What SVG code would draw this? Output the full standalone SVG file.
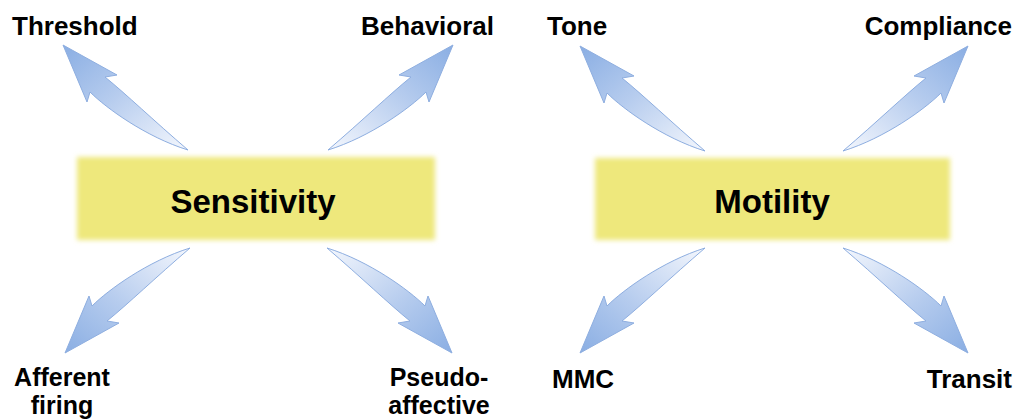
<svg xmlns="http://www.w3.org/2000/svg" xmlns:xlink="http://www.w3.org/1999/xlink" width="1016" height="419" viewBox="0 0 1016 419">
  <defs>
    <linearGradient id="arrowGrad" x1="0" y1="0" x2="1" y2="1">
      <stop offset="0" stop-color="#8aaee3"/>
      <stop offset="0.45" stop-color="#b6ccee"/>
      <stop offset="1" stop-color="#f4f7fd"/>
    </linearGradient>
    <filter id="soft" x="-10%" y="-20%" width="120%" height="140%">
      <feGaussianBlur stdDeviation="2.6"/>
    </filter>
    <path id="arrow" d="M0,0 C-35,-30 -62,-56 -83,-73 L-71,-75 L-125,-105 L-101,-48 L-98,-58 C-82,-42 -42,-13 0,0 Z"/>
  </defs>
  <style>
    .box { fill: #eee87c; filter: url(#soft); }
    .arr { fill: url(#arrowGrad); stroke: #8eaee0; stroke-width: 1; stroke-linejoin: round; }
    .lbl { font-family: "Liberation Sans", Arial, sans-serif; font-weight: bold; font-size: 26px; fill: #000; }
    .lbl2 { font-family: "Liberation Sans", Arial, sans-serif; font-weight: bold; font-size: 25px; fill: #000; text-anchor: middle; }
    .title { font-family: "Liberation Sans", Arial, sans-serif; font-weight: bold; font-size: 33px; fill: #000; text-anchor: middle; }
  </style>
  <rect width="1016" height="419" fill="#ffffff"/>

  <g id="connectors">
    <use xlink:href="#arrow" class="arr" transform="translate(188,150)"/>
    <use xlink:href="#arrow" class="arr" transform="translate(328,150) scale(-1,1)"/>
    <use xlink:href="#arrow" class="arr" transform="translate(190,248) scale(1,-1)"/>
    <use xlink:href="#arrow" class="arr" transform="translate(327,248) scale(-1,-1)"/>
    <use xlink:href="#arrow" class="arr" transform="translate(705,151)"/>
    <use xlink:href="#arrow" class="arr" transform="translate(843,151) scale(-1,1)"/>
    <use xlink:href="#arrow" class="arr" transform="translate(705,248) scale(1,-1)"/>
    <use xlink:href="#arrow" class="arr" transform="translate(843,248) scale(-1,-1)"/>
  </g>

  <g id="sensitivity">
    <rect class="box" x="77" y="157" width="358" height="83"/>
    <text class="title" x="253" y="213">Sensitivity</text>
  </g>
  <g id="motility">
    <rect class="box" x="595" y="158" width="355" height="82"/>
    <text class="title" x="772" y="213">Motility</text>
  </g>

  <g id="threshold"><text class="lbl" x="12" y="35">Threshold</text></g>
  <g id="behavioral"><text class="lbl" x="494" y="35" text-anchor="end">Behavioral</text></g>
  <g id="afferent-firing">
    <text class="lbl2" x="62" y="386">Afferent</text>
    <text class="lbl2" x="62" y="414">firing</text>
  </g>
  <g id="pseudo-affective">
    <text class="lbl2" x="439" y="386">Pseudo-</text>
    <text class="lbl2" x="439" y="414">affective</text>
  </g>
  <g id="tone"><text class="lbl" x="547" y="35">Tone</text></g>
  <g id="compliance"><text class="lbl" x="1012" y="35" text-anchor="end">Compliance</text></g>
  <g id="mmc"><text class="lbl" x="552" y="388">MMC</text></g>
  <g id="transit"><text class="lbl" x="1012" y="388" text-anchor="end">Transit</text></g>
</svg>
